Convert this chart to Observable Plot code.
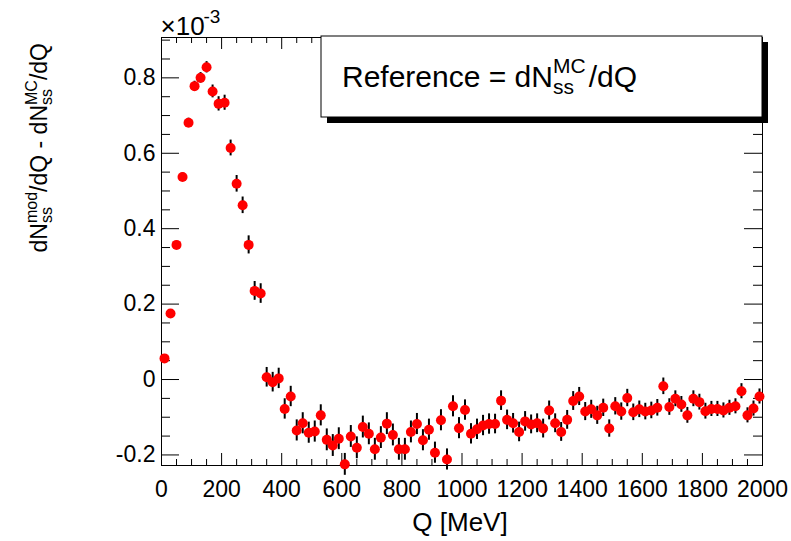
<!DOCTYPE html>
<html><head><meta charset="utf-8">
<script src="https://cdn.jsdelivr.net/npm/d3@7"></script>
<script src="https://cdn.jsdelivr.net/npm/@observablehq/plot@0.6"></script>
<style>body{margin:0;background:#fff}</style>
</head><body><div id="chart"></div>
<script>
// Bin centres Q [MeV]
const qCenters = [10,30,50,70,90,110,130,150,170,190,210,230,250,270,290,310,330,350,370,390,
410,430,450,470,490,510,530,550,570,590,610,630,650,670,690,710,730,750,770,790,
810,830,850,870,890,910,930,950,970,990,1010,1030,1050,1070,1090,1110,1130,1150,1170,1190,
1210,1230,1250,1270,1290,1310,1330,1350,1370,1390,1410,1430,1450,1470,1490,1510,1530,1550,1570,1590,
1610,1630,1650,1670,1690,1710,1730,1750,1770,1790,1810,1830,1850,1870,1890,1910,1930,1950,1970,1990];
// dN_mod/dQ - dN_MC/dQ, in units of 1e-3
const diffValues = [0.056,0.175,0.357,0.537,0.681,0.778,0.800,0.828,0.764,0.731,
0.734,0.614,0.519,0.462,0.357,0.235,0.228,0.006,-0.007,0.003,
-0.078,-0.045,-0.135,-0.116,-0.141,-0.138,-0.095,-0.160,-0.175,-0.157,
-0.225,-0.151,-0.181,-0.126,-0.144,-0.185,-0.154,-0.117,-0.147,-0.185,
-0.185,-0.139,-0.118,-0.161,-0.133,-0.194,-0.108,-0.212,-0.071,-0.129,
-0.081,-0.144,-0.132,-0.122,-0.118,-0.118,-0.056,-0.107,-0.116,-0.139,
-0.111,-0.119,-0.116,-0.130,-0.082,-0.116,-0.139,-0.107,-0.057,-0.045,
-0.085,-0.079,-0.095,-0.075,-0.130,-0.071,-0.085,-0.049,-0.087,-0.079,
-0.085,-0.082,-0.075,-0.018,-0.073,-0.051,-0.066,-0.095,-0.051,-0.060,
-0.084,-0.078,-0.078,-0.082,-0.075,-0.071,-0.031,-0.095,-0.077,-0.045];
const diffErrors = [0.008,0.009,0.010,0.011,0.012,0.013,0.014,0.015,0.017,0.019,
0.020,0.021,0.022,0.022,0.024,0.025,0.026,0.026,0.026,0.027,
0.027,0.027,0.028,0.028,0.028,0.028,0.028,0.029,0.029,0.029,
0.029,0.029,0.029,0.029,0.029,0.029,0.029,0.029,0.029,0.029,
0.029,0.029,0.028,0.028,0.028,0.028,0.028,0.028,0.028,0.028,
0.027,0.027,0.027,0.027,0.027,0.026,0.026,0.026,0.026,0.026,
0.026,0.025,0.025,0.025,0.025,0.025,0.025,0.025,0.025,0.024,
0.024,0.024,0.024,0.023,0.023,0.023,0.023,0.023,0.022,0.022,
0.022,0.022,0.022,0.022,0.022,0.021,0.021,0.021,0.021,0.021,
0.021,0.020,0.020,0.020,0.020,0.020,0.020,0.020,0.020,0.020];
const xTickValues = [0,200,400,600,800,1000,1200,1400,1600,1800,2000];
const yTickValues = [-0.2,0,0.2,0.4,0.6,0.8];
const xDomain = [0,2000];
const yDomain = [-0.228,0.907];

const data = qCenters.map((q,i)=>({q, v: diffValues[i], e: diffErrors[i]}));
const xMinor = d3.range(0,2001,50).filter(d=>d%200!==0);
const yMinor = d3.range(-4,19).map(k=>k*0.05).filter(d=>Math.abs(Math.round(d*20))%4!==0 && d>=yDomain[0] && d<=yDomain[1]);

const W=791,H=541,mL=161,mR=29,mT=37,mB=76;
const fw=W-mL-mR, fh=H-mT-mB;
const font="'Liberation Sans', Arial, Helvetica, sans-serif";

const svgEl = Plot.plot({
  width:W, height:H, marginLeft:mL, marginRight:mR, marginTop:mT, marginBottom:mB,
  x:{domain:xDomain}, y:{domain:yDomain},
  style:{fontFamily:font, background:"white", color:"black", overflow:"visible"},
  marks:[
    Plot.tickX(xTickValues,{x:d=>d, insetTop:fh-12, stroke:"black"}),
    Plot.tickX(xMinor,{x:d=>d, insetTop:fh-6, stroke:"black"}),
    Plot.tickX(xTickValues,{x:d=>d, insetBottom:fh-12, stroke:"black"}),
    Plot.tickX(xMinor,{x:d=>d, insetBottom:fh-6, stroke:"black"}),
    Plot.tickY(yTickValues,{y:d=>d, insetRight:fw-18, stroke:"black"}),
    Plot.tickY(yMinor,{y:d=>d, insetRight:fw-9, stroke:"black"}),
    Plot.tickY(yTickValues,{y:d=>d, insetLeft:fw-18, stroke:"black"}),
    Plot.tickY(yMinor,{y:d=>d, insetLeft:fw-9, stroke:"black"}),
    Plot.axisX({ticks:xTickValues, tickSize:0, tickPadding:15, fontSize:23, tickFormat:d=>String(d), label:null}),
    Plot.axisY({ticks:yTickValues, tickSize:0, tickPadding:6, fontSize:23, tickFormat:d=>d===0?"0":d.toFixed(1).replace("−","-"), label:null}),
    Plot.frame({stroke:"black"}),
    Plot.ruleX(data,{x:"q", y1:d=>d.v-d.e, y2:d=>d.v+d.e, stroke:"black", strokeWidth:2}),
    Plot.dot(data,{x:"q", y:"v", r:5, fill:"#ff0000", stroke:"none"}),
    // exponent of the y axis
    Plot.text(["\u00d710"],{frameAnchor:"top-left", text:d=>d, textAnchor:"start", lineAnchor:"bottom", dx:-1, dy:-3, fontSize:26, fill:"black"}),
    Plot.text(["-3"],{frameAnchor:"top-left", text:d=>d, textAnchor:"start", lineAnchor:"bottom", dx:42, dy:-15, fontSize:19, fill:"black"})
  ]
});
document.getElementById("chart").appendChild(svgEl);
const svg = d3.select(svgEl);

function txt(x,y,size,anchor){
  return svg.append("text").attr("x",x).attr("y",y).attr("text-anchor",anchor)
    .attr("font-size",size).style("font-size",size+"px").style("font-family",font).attr("fill","black");
}
function span(sel,size,t){
  return sel.append("tspan").attr("font-size",size).style("font-size",size+"px").text(t);
}

// legend box with shadow
const bx=321, by=mT-1, bw=W-mR-bx, bh=81;
svg.append("rect").attr("x",bx+6).attr("y",by+6).attr("width",bw).attr("height",bh).attr("fill","black");
svg.append("rect").attr("x",bx).attr("y",by).attr("width",bw).attr("height",bh).attr("fill","white").attr("stroke","black");
const lt = txt(342,87,30,"start");
span(lt,30,"Reference = dN");
span(lt,21,"ss").attr("dy",7);
span(lt,21,"MC").attr("dx",-21).attr("dy",-21);
span(lt,30,"/dQ").attr("dx",3).attr("dy",14);

// y title
const yt = svg.append("text").attr("transform","translate(47,43) rotate(-90)").attr("text-anchor","end")
  .attr("font-size",23).style("font-size","23px").style("font-family",font).attr("fill","black");
span(yt,23,"dN");
span(yt,16,"ss").attr("dy",5);
span(yt,16,"mod").attr("dx",-16).attr("dy",-15);
span(yt,23,"/dQ - dN").attr("dy",10);
span(yt,16,"ss").attr("dy",5);
span(yt,16,"MC").attr("dx",-16).attr("dy",-15);
span(yt,23,"/dQ").attr("dy",10);

// x title
txt(460,531,26,"middle").text("Q [MeV]");
</script>
</body></html>
